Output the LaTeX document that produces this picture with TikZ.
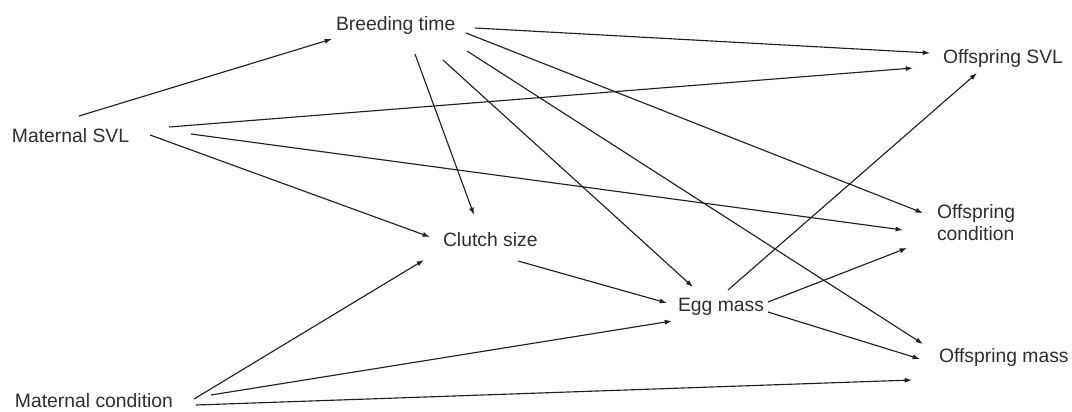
\documentclass[tikz,border=0pt]{standalone}
\usepackage{fontspec}
\setmainfont{Liberation Sans}
\usetikzlibrary{arrows.meta}
\begin{document}
\begin{tikzpicture}[x=0.75pt,y=-0.75pt,
  lbl/.style={inner sep=0pt,outer sep=0pt,text=black!82,font=\fontsize{14.5}{16.5}\selectfont},
  arr/.style={line width=0.85pt,draw=black!88,-{Latex[length=5.5pt,width=3.8pt]}}]
\useasboundingbox (0,0) rectangle (1072,411);
% nodes
\node[lbl,anchor=base west] (bt) at (336,30) {Breeding time};
\node[lbl,anchor=base west] (msvl) at (12,142) {Maternal SVL};
\node[lbl,anchor=base west] (cs) at (443,246) {Clutch size};
\node[lbl,anchor=base west] (egg) at (678,311) {Egg mass};
\node[lbl,anchor=base west] (osvl) at (943,63) {Offspring SVL};
\node[lbl,anchor=north west,align=left] (ocond) at (937,204) {Offspring\\condition};
\node[lbl,anchor=base west] (omass) at (939,362) {Offspring mass};
\node[lbl,anchor=base west] (mcond) at (15,407) {Maternal condition};
% connectors
\draw[arr] ([shift={(67,-26)}]msvl.base west) -- ([shift={(-4,9)}]bt.base west);
\draw[arr] ([shift={(157,-15)}]msvl.base west) -- ([shift={(-30,5)}]osvl.base west);
\draw[arr] ([shift={(179,-8)}]msvl.base west) -- ([shift={(-34,26)}]ocond.north west);
\draw[arr] ([shift={(138,-7)}]msvl.base west) -- ([shift={(-13,-9)}]cs.base west);
\draw[arr] ([shift={(139,-2)}]bt.base west) -- ([shift={(-13,-10)}]osvl.base west);
\draw[arr] ([shift={(130,3)}]bt.base west) -- ([shift={(-14,9)}]ocond.north west);
\draw[arr] ([shift={(79,24)}]bt.base west) -- ([shift={(31,-31)}]cs.base west);
\draw[arr] ([shift={(107,30)}]bt.base west) -- ([shift={(15,-24)}]egg.base west);
\draw[arr] ([shift={(131,21)}]bt.base west) -- ([shift={(-16,-18)}]omass.base west);
\draw[arr] ([shift={(75,15)}]cs.base west) -- ([shift={(-11,-8)}]egg.base west);
\draw[arr] ([shift={(179,-8)}]mcond.base west) -- ([shift={(-19,14)}]cs.base west);
\draw[arr] ([shift={(196,-12)}]mcond.base west) -- ([shift={(-6,10)}]egg.base west);
\draw[arr] ([shift={(181,-2)}]mcond.base west) -- ([shift={(-27,18)}]omass.base west);
\draw[arr] ([shift={(50,-21)}]egg.base west) -- ([shift={(34,10)}]osvl.base west);
\draw[arr] ([shift={(90,-9)}]egg.base west) -- ([shift={(-30,44)}]ocond.north west);
\draw[arr] ([shift={(90,1)}]egg.base west) -- ([shift={(-19,-3)}]omass.base west);
\end{tikzpicture}
\end{document}
